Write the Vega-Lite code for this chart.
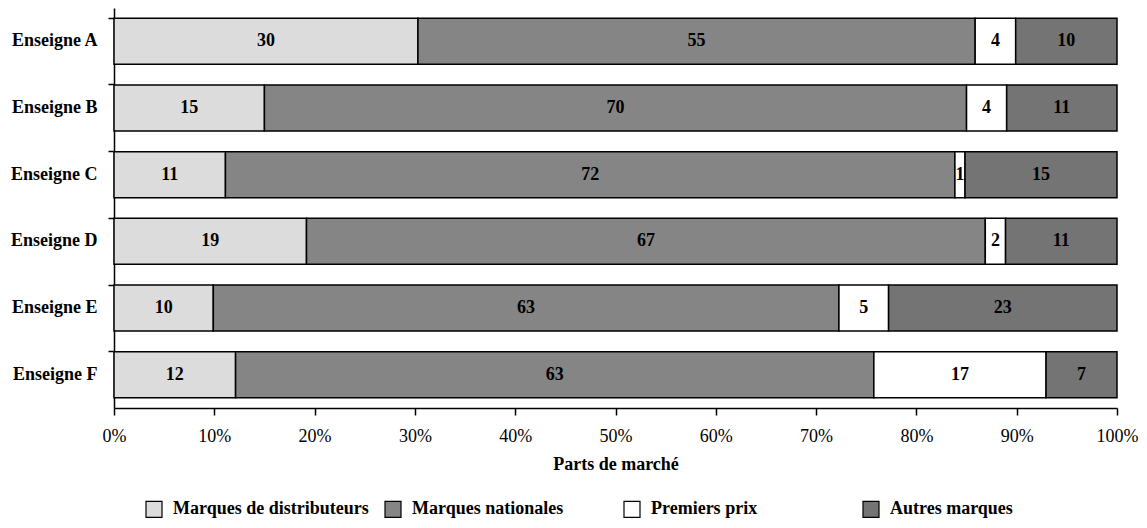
{
  "$schema": "https://vega.github.io/schema/vega-lite/v6.json",
  "autosize": {"type": "none"},
  "width": 1003,
  "height": 400,
  "padding": {"left": 114, "top": 8, "right": 30, "bottom": 120},
  "background": "white",
  "config": {
    "font": "Liberation Serif",
    "view": {"stroke": null}
  },
  "data": {
    "values": [
      {"enseigne": "Enseigne A", "categorie": "Marques de distributeurs", "ordre": 1, "valeur": 30},
      {"enseigne": "Enseigne A", "categorie": "Marques nationales", "ordre": 2, "valeur": 55},
      {"enseigne": "Enseigne A", "categorie": "Premiers prix", "ordre": 3, "valeur": 4},
      {"enseigne": "Enseigne A", "categorie": "Autres marques", "ordre": 4, "valeur": 10},
      {"enseigne": "Enseigne B", "categorie": "Marques de distributeurs", "ordre": 1, "valeur": 15},
      {"enseigne": "Enseigne B", "categorie": "Marques nationales", "ordre": 2, "valeur": 70},
      {"enseigne": "Enseigne B", "categorie": "Premiers prix", "ordre": 3, "valeur": 4},
      {"enseigne": "Enseigne B", "categorie": "Autres marques", "ordre": 4, "valeur": 11},
      {"enseigne": "Enseigne C", "categorie": "Marques de distributeurs", "ordre": 1, "valeur": 11},
      {"enseigne": "Enseigne C", "categorie": "Marques nationales", "ordre": 2, "valeur": 72},
      {"enseigne": "Enseigne C", "categorie": "Premiers prix", "ordre": 3, "valeur": 1},
      {"enseigne": "Enseigne C", "categorie": "Autres marques", "ordre": 4, "valeur": 15},
      {"enseigne": "Enseigne D", "categorie": "Marques de distributeurs", "ordre": 1, "valeur": 19},
      {"enseigne": "Enseigne D", "categorie": "Marques nationales", "ordre": 2, "valeur": 67},
      {"enseigne": "Enseigne D", "categorie": "Premiers prix", "ordre": 3, "valeur": 2},
      {"enseigne": "Enseigne D", "categorie": "Autres marques", "ordre": 4, "valeur": 11},
      {"enseigne": "Enseigne E", "categorie": "Marques de distributeurs", "ordre": 1, "valeur": 10},
      {"enseigne": "Enseigne E", "categorie": "Marques nationales", "ordre": 2, "valeur": 63},
      {"enseigne": "Enseigne E", "categorie": "Premiers prix", "ordre": 3, "valeur": 5},
      {"enseigne": "Enseigne E", "categorie": "Autres marques", "ordre": 4, "valeur": 23},
      {"enseigne": "Enseigne F", "categorie": "Marques de distributeurs", "ordre": 1, "valeur": 12},
      {"enseigne": "Enseigne F", "categorie": "Marques nationales", "ordre": 2, "valeur": 63},
      {"enseigne": "Enseigne F", "categorie": "Premiers prix", "ordre": 3, "valeur": 17},
      {"enseigne": "Enseigne F", "categorie": "Autres marques", "ordre": 4, "valeur": 7}
    ]
  },
  "encoding": {
    "y": {
      "field": "enseigne",
      "type": "nominal",
      "scale": {"paddingInner": 0.31, "paddingOuter": 0.155},
      "axis": {
        "title": null,
        "bandPosition": 0,
        "domainColor": "black",
        "domainWidth": 1.5,
        "tickColor": "black",
        "tickWidth": 1.5,
        "tickSize": 6,
        "labelFont": "Liberation Serif",
        "labelFontWeight": "bold",
        "labelFontSize": 18,
        "labelColor": "black",
        "labelPadding": 11
      }
    },
    "order": {"field": "ordre", "type": "quantitative"}
  },
  "layer": [
    {
      "mark": {"type": "bar", "stroke": "black", "strokeWidth": 1.5},
      "encoding": {
        "x": {
          "field": "valeur",
          "type": "quantitative",
          "stack": "normalize",
          "scale": {"domain": [0, 1], "nice": false},
          "axis": {
            "title": "Parts de marché",
            "format": ".0%",
            "values": [0, 0.1, 0.2, 0.3, 0.4, 0.5, 0.6, 0.7, 0.8, 0.9, 1],
            "grid": false,
            "labelFlush": false,
            "labelBound": false,
            "labelOverlap": false,
            "domainColor": "black",
            "domainWidth": 1.5,
            "tickColor": "black",
            "tickWidth": 1.5,
            "tickSize": 7,
            "labelFont": "Liberation Serif",
            "labelFontSize": 18,
            "labelColor": "black",
            "labelPadding": 12,
            "titleFont": "Liberation Serif",
            "titleFontWeight": "bold",
            "titleFontSize": 18,
            "titleColor": "black",
            "titlePadding": 10
          }
        },
        "color": {
          "field": "categorie",
          "type": "nominal",
          "sort": ["Marques de distributeurs", "Marques nationales", "Premiers prix", "Autres marques"],
          "scale": {
            "domain": ["Marques de distributeurs", "Marques nationales", "Premiers prix", "Autres marques"],
            "range": ["#dcdcdc", "#858585", "#ffffff", "#747474"]
          },
          "legend": {
            "title": null,
            "orient": "none",
            "direction": "horizontal",
            "columns": 4,
            "gridAlign": "all",
            "columnPadding": 13,
            "padding": 0,
            "legendX": 31,
            "legendY": 492,
            "symbolType": "square",
            "symbolSize": 256,
            "symbolStrokeColor": "black",
            "symbolStrokeWidth": 1.2,
            "symbolOpacity": 1,
            "labelFont": "Liberation Serif",
            "labelFontWeight": "bold",
            "labelFontSize": 18,
            "labelColor": "black",
            "labelOffset": 10,
            "labelLimit": 400
          }
        }
      }
    },
    {
      "mark": {"type": "text", "font": "Liberation Serif", "fontWeight": "bold", "fontSize": 18, "color": "black"},
      "encoding": {
        "x": {
          "field": "valeur",
          "type": "quantitative",
          "stack": "normalize",
          "bandPosition": 0.5
        },
        "text": {"field": "valeur", "type": "quantitative"}
      }
    }
  ]
}
